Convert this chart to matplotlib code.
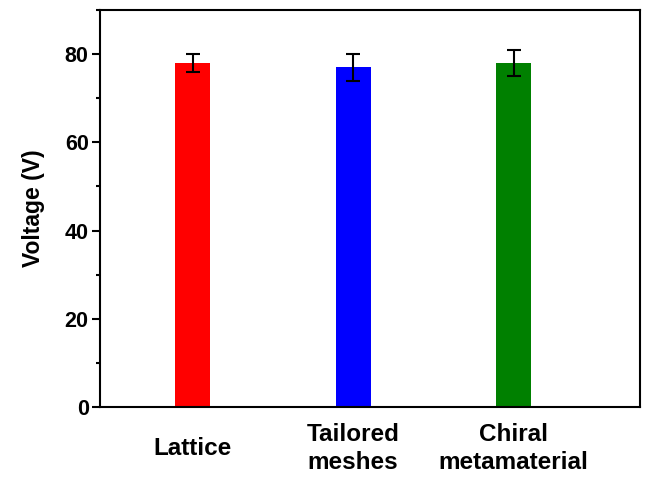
import numpy as np
import matplotlib
matplotlib.use('Agg')
import matplotlib.pyplot as plt
from matplotlib.ticker import MultipleLocator

# data
labels = ['Lattice', 'Tailored\nmeshes', 'Chiral\nmetamaterial']
voltage = [78, 77, 78]
err = [2, 3, 3]
colors = ['#ff0000', '#0000ff', '#008000']

plt.rcParams['font.family'] = ['Liberation Sans', 'DejaVu Sans']
plt.rcParams['font.weight'] = 'bold'

fig = plt.figure(figsize=(6.48, 4.86), dpi=100)
ax = fig.add_axes([0.154, 0.163, 0.834, 0.816])

x = np.arange(1, len(labels) + 1)
ax.bar(x, voltage, width=0.22, color=colors)
ax.errorbar(x, voltage, yerr=err, fmt='none', ecolor='black',
            elinewidth=1.5, capsize=5, capthick=1.5)

ax.set_xlim(0.42, 3.79)
ax.set_ylim(0, 90)
ax.yaxis.set_major_locator(MultipleLocator(20))
ax.yaxis.set_minor_locator(MultipleLocator(10))
ax.set_xticks(x)
ax.set_xticklabels(labels, fontsize=17.5, fontweight='bold', va='center',
                   multialignment='center', linespacing=1.25)
ax.tick_params(axis='x', length=0, pad=30)
ax.tick_params(axis='y', which='major', length=6, width=1.5, labelsize=15.5, pad=2)
ax.tick_params(axis='y', which='minor', length=3, width=1.5)
ax.set_ylabel('Voltage (V)', fontsize=16.5, fontweight='bold', labelpad=14)

for s in ax.spines.values():
    s.set_linewidth(1.5)

fig.savefig('out.png', dpi=100)
